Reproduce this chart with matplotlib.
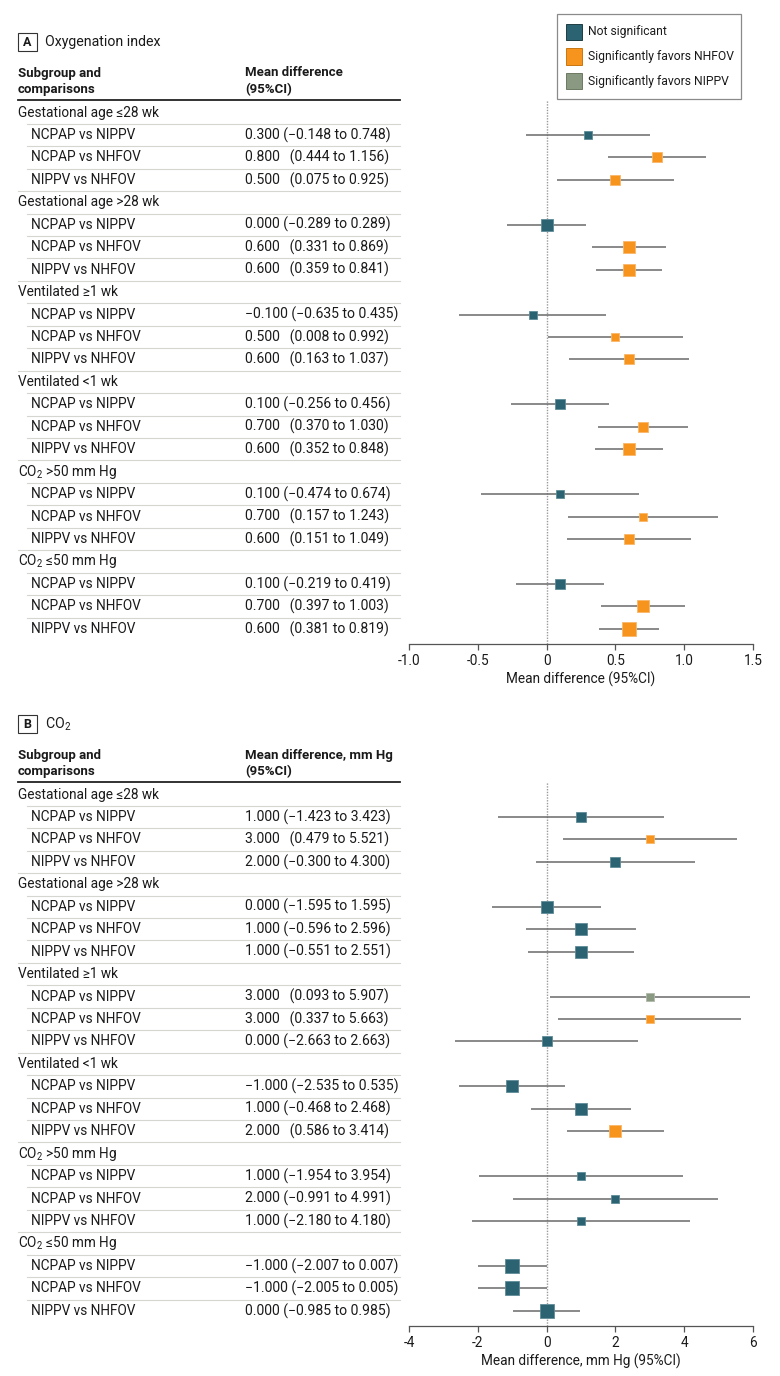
import matplotlib
matplotlib.use("Agg")
import matplotlib.pyplot as plt
from matplotlib import font_manager, transforms
from matplotlib.patches import Rectangle
from matplotlib.lines import Line2D

# ---------------- data ----------------
groups = ["Gestational age ≤28 wk", "Gestational age >28 wk", "Ventilated ≥1 wk",
          "Ventilated <1 wk", "CO$_2$ >50 mm Hg", "CO$_2$ ≤50 mm Hg"]
comparisons = ["NCPAP vs NIPPV", "NCPAP vs NHFOV", "NIPPV vs NHFOV"]

# Panel A: oxygenation index
oi_mean = [0.300, 0.800, 0.500, 0.000, 0.600, 0.600, -0.100, 0.500, 0.600,
           0.100, 0.700, 0.600, 0.100, 0.700, 0.600, 0.100, 0.700, 0.600]
oi_low = [-0.148, 0.444, 0.075, -0.289, 0.331, 0.359, -0.635, 0.008, 0.163,
          -0.256, 0.370, 0.352, -0.474, 0.157, 0.151, -0.219, 0.397, 0.381]
oi_high = [0.748, 1.156, 0.925, 0.289, 0.869, 0.841, 0.435, 0.992, 1.037,
           0.456, 1.030, 0.848, 0.674, 1.243, 1.049, 0.419, 1.003, 0.819]
oi_sig = ["ns", "nhfov", "nhfov", "ns", "nhfov", "nhfov", "ns", "nhfov", "nhfov",
          "ns", "nhfov", "nhfov", "ns", "nhfov", "nhfov", "ns", "nhfov", "nhfov"]
oi_weight = [9, 11, 10, 12, 12.5, 12.5, 9, 9.5, 10, 11, 11, 13, 9, 9, 10, 11, 12, 14]
oi_ticks = [-1.0, -0.5, 0, 0.5, 1.0, 1.5]
oi_ticklabels = ["-1.0", "-0.5", "0", "0.5", "1.0", "1.5"]

# Panel B: CO2
co2_mean = [1.000, 3.000, 2.000, 0.000, 1.000, 1.000, 3.000, 3.000, 0.000,
            -1.000, 1.000, 2.000, 1.000, 2.000, 1.000, -1.000, -1.000, 0.000]
co2_low = [-1.423, 0.479, -0.300, -1.595, -0.596, -0.551, 0.093, 0.337, -2.663,
           -2.535, -0.468, 0.586, -1.954, -0.991, -2.180, -2.007, -2.005, -0.985]
co2_high = [3.423, 5.521, 4.300, 1.595, 2.596, 2.551, 5.907, 5.663, 2.663,
            0.535, 2.468, 3.414, 3.954, 4.991, 4.180, 0.007, 0.005, 0.985]
co2_sig = ["ns", "nhfov", "ns", "ns", "ns", "ns", "nippv", "nhfov", "ns",
           "ns", "ns", "nhfov", "ns", "ns", "ns", "ns", "ns", "ns"]
co2_weight = [10, 9, 10, 12, 12, 12, 9.5, 9.5, 10, 12, 13, 13, 9, 9, 9, 15, 15, 15]
co2_ticks = [-4, -2, 0, 2, 4, 6]
co2_ticklabels = ["-4", "-2", "0", "2", "4", "6"]

legend_labels = ["Not significant", "Significantly favors NHFOV", "Significantly favors NIPPV"]

# ---------------- style ----------------
COLORS = {"ns": "#2B6373", "nhfov": "#F7941D", "nippv": "#8A9A82"}
EDGES = {"ns": "#5F8C98", "nhfov": "#F9B66A", "nippv": "#B0BAA8"}
LEG_EDGES = {"ns": "#1E3E44", "nhfov": "#C97610", "nippv": "#6C7A64"}
TXT = "#1a1a1a"

names = {f.name for f in font_manager.fontManager.ttflist}
FONT = "DejaVu Sans"
for cand in ["Liberation Sans Narrow", "Roboto", "Lato"]:
    if cand in names:
        FONT = cand
        break
plt.rcParams["font.family"] = [FONT, "DejaVu Sans"]
plt.rcParams["mathtext.fontset"] = "custom"
plt.rcParams["mathtext.rm"] = FONT
plt.rcParams["mathtext.it"] = FONT + ":italic"
plt.rcParams["mathtext.bf"] = FONT + ":bold"
FS = 9.8
FS_VAL = 10.1
FS_HEAD = 9.5
FS_TITLE = 10.2
FS_LEG = 8.75

W, H = 780, 1376
fig = plt.figure(figsize=(W / 100, H / 100), dpi=100)


def fx(x):
    return x / W


def fy(y):
    return 1 - y / H


def fmt(v):
    return f"{v:.3f}".replace("-", "\u2212")


def draw_panel(top, letter, title, header2, mean, low, high, sig, weight,
               xlim, ticks, ticklabels, xlabel):
    # top: pixel y of header rule
    row0 = top + 12.5
    step = 22.45
    ax_left, ax_right = 409, 753
    ax_bottom = row0 + 23 * step + 15.5
    ax = fig.add_axes([fx(ax_left), fy(ax_bottom), (ax_right - ax_left) / W,
                       (ax_bottom - top) / H])
    ax.set_xlim(*xlim)
    ax.set_ylim((ax_bottom - row0) / step, (top - row0) / step)
    for s in ["top", "right", "left"]:
        ax.spines[s].set_visible(False)
    ax.spines["bottom"].set_color("#555555")
    ax.spines["bottom"].set_linewidth(0.9)
    ax.set_yticks([])
    ax.set_xticks(ticks)
    ax.set_xticklabels(ticklabels)
    ax.tick_params(axis="x", direction="out", length=4, width=0.9, color="#555555",
                   pad=3, labelsize=FS, labelcolor=TXT)
    ax.axvline(0, color="#9a9a9a", lw=1.0, ls=(0, (1, 1)), zorder=1)
    fig.text(fx((ax_left + ax_right) / 2), fy(ax_bottom + 35), xlabel, ha="center",
             va="center", fontsize=FS, color=TXT)

    tr = transforms.blended_transform_factory(fig.transFigure, ax.transData)

    # panel label and title
    fig.add_artist(Rectangle((fx(18), fy(top - 49)), 19 / W, 18 / H,
                             transform=fig.transFigure, fill=False,
                             edgecolor="#333333", lw=0.8))
    fig.text(fx(27.5), fy(top - 58), letter, ha="center", va="center",
             fontsize=9.0, fontweight="bold", color=TXT)
    fig.text(fx(45), fy(top - 58), title, ha="left", va="center",
             fontsize=FS_TITLE, color=TXT)

    # column headers
    fig.text(fx(18), fy(top - 27), "Subgroup and", ha="left", va="center",
             fontsize=FS_HEAD, fontweight="bold", color=TXT)
    fig.text(fx(18), fy(top - 10), "comparisons", ha="left", va="center",
             fontsize=FS_HEAD, fontweight="bold", color=TXT)
    fig.text(fx(245), fy(top - 27), header2, ha="left", va="center",
             fontsize=FS_HEAD, fontweight="bold", color=TXT)
    fig.text(fx(245), fy(top - 10), "(95%CI)", ha="left", va="center",
             fontsize=FS_HEAD, fontweight="bold", color=TXT)
    fig.add_artist(Line2D([fx(18), fx(400)], [fy(top), fy(top)],
                          transform=fig.transFigure, color="#222222", lw=1.3))

    # rows
    k = 0
    for g, gname in enumerate(groups):
        r = 4 * g
        ax.text(fx(18), r, gname, transform=tr, ha="left", va="center",
                fontsize=FS, color=TXT, clip_on=False)
        if r > 0:
            fig.add_artist(Line2D([fx(18), fx(400)], [r - 0.5, r - 0.5], transform=tr,
                                  color="#d6d6d0", lw=0.8))
        for c, cname in enumerate(comparisons):
            rr = r + 1 + c
            fig.add_artist(Line2D([fx(27), fx(400)], [rr - 0.5, rr - 0.5], transform=tr,
                                  color="#d6d6d0", lw=0.8))
            ax.text(fx(31), rr, cname, transform=tr, ha="left", va="center",
                    fontsize=FS, color=TXT, clip_on=False)
            gap = " " if low[k] < 0 else "  \u2009"
            label = f"{fmt(mean[k])}{gap}({fmt(low[k])} to {fmt(high[k])})"
            ax.text(fx(245), rr, label, transform=tr, ha="left", va="center",
                    fontsize=FS_VAL, color=TXT, clip_on=False)
            ax.hlines(rr, low[k], high[k], color="#6a6a6a", lw=1.1, zorder=2)
            ax.plot(mean[k], rr, marker="s", ms=(weight[k] - 0.6) * 0.72,
                    mfc=COLORS[sig[k]], mec=EDGES[sig[k]], mew=0.6, zorder=3,
                    clip_on=False)
            k += 1
    return ax


draw_panel(100, "A", "Oxygenation index", "Mean difference", oi_mean, oi_low, oi_high,
           oi_sig, oi_weight, (-1.0, 1.5), oi_ticks, oi_ticklabels,
           "Mean difference (95%CI)")
draw_panel(782, "B", "CO$_2$", "Mean difference, mm Hg", co2_mean, co2_low, co2_high,
           co2_sig, co2_weight, (-4, 6), co2_ticks, co2_ticklabels,
           "Mean difference, mm Hg (95%CI)")

# legend
fig.add_artist(Rectangle((fx(557), fy(99)), (741 - 557) / W, (99 - 14) / H,
                         transform=fig.transFigure, fill=True, facecolor="white",
                         edgecolor="#8a8a8a", lw=0.9))
for i, (key, lab) in enumerate(zip(["ns", "nhfov", "nippv"], legend_labels)):
    cy = 32 + i * 24.5
    fig.add_artist(Rectangle((fx(566), fy(cy + 8)), 16 / W, 16 / H,
                             transform=fig.transFigure, facecolor=COLORS[key],
                             edgecolor=LEG_EDGES[key], lw=0.7))
    fig.text(fx(588), fy(cy), lab, ha="left", va="center", fontsize=FS_LEG, color=TXT)

fig.savefig("out.png", dpi=100, facecolor="white")
